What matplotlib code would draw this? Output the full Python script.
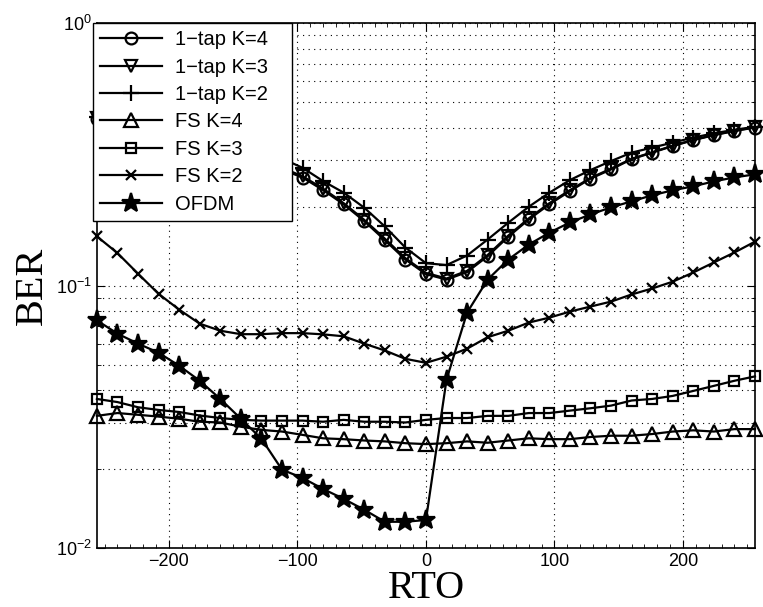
import matplotlib.pyplot as plt
import numpy as np
from matplotlib.ticker import LogLocator, NullFormatter, MultipleLocator

# RTO sample points (every 16 samples)
rto = np.arange(-256, 257, 16)

ber_1tap_k4 = [0.430, 0.415, 0.401, 0.387, 0.374, 0.358, 0.339, 0.322, 0.303,
               0.277, 0.258, 0.231, 0.204, 0.176, 0.149, 0.1257, 0.1106, 0.1054,
               0.1126, 0.1294, 0.1534, 0.1786, 0.204, 0.229, 0.2555, 0.277, 0.303,
               0.321, 0.340, 0.358, 0.374, 0.388, 0.400]
ber_1tap_k3 = [0.434, 0.419, 0.405, 0.391, 0.378, 0.362, 0.343, 0.326, 0.307,
               0.281, 0.261, 0.234, 0.206, 0.178, 0.151, 0.1272, 0.1118, 0.1064,
               0.1138, 0.1308, 0.1550, 0.1803, 0.206, 0.231, 0.257, 0.279, 0.304,
               0.322, 0.341, 0.359, 0.375, 0.389, 0.401]
ber_1tap_k2 = [0.438, 0.426, 0.415, 0.404, 0.391, 0.377, 0.361, 0.345, 0.328,
               0.305, 0.281, 0.250, 0.226, 0.198, 0.168, 0.1396, 0.1217, 0.1197,
               0.1302, 0.1498, 0.1735, 0.1997, 0.2258, 0.2523, 0.2755, 0.2981, 0.321,
               0.3354, 0.3505, 0.3663, 0.3802, 0.3921, 0.4027]
ber_fs_k4 = [0.0319, 0.0327, 0.0322, 0.0317, 0.0311, 0.0303, 0.0301, 0.0290, 0.0282,
             0.0278, 0.0270, 0.0262, 0.0260, 0.0257, 0.0255, 0.0251, 0.0249, 0.0251,
             0.0255, 0.0252, 0.0257, 0.0262, 0.0260, 0.0260, 0.0265, 0.0268, 0.0268,
             0.0272, 0.0278, 0.0281, 0.0278, 0.0284, 0.0284]
ber_fs_k3 = [0.0370, 0.0360, 0.0344, 0.0336, 0.0330, 0.0320, 0.0313, 0.0308, 0.0306,
             0.0306, 0.0306, 0.0303, 0.0308, 0.0303, 0.0303, 0.0301, 0.0308, 0.0313,
             0.0313, 0.0319, 0.0319, 0.0327, 0.0327, 0.0334, 0.0341, 0.0349, 0.0365,
             0.0370, 0.0380, 0.0397, 0.0415, 0.0434, 0.0451]
ber_fs_k2 = [0.154, 0.133, 0.111, 0.093, 0.081, 0.0716, 0.0673, 0.0653, 0.0653,
             0.0659, 0.0659, 0.0652, 0.0641, 0.0601, 0.0566, 0.0526, 0.0508, 0.0536,
             0.0575, 0.0636, 0.0673, 0.0723, 0.0755, 0.0796, 0.0832, 0.0869, 0.0925,
             0.0975, 0.1035, 0.1122, 0.1225, 0.1337, 0.147]
ber_ofdm = [0.0737, 0.0656, 0.0601, 0.0555, 0.0495, 0.0434, 0.0370, 0.0311, 0.0261,
            0.0199, 0.0185, 0.0168, 0.0154, 0.0140, 0.0126, 0.0126, 0.0128, 0.0438,
            0.0789, 0.1054, 0.1256, 0.1433, 0.159, 0.174, 0.1866, 0.1986, 0.2094,
            0.2208, 0.2307, 0.2389, 0.2494, 0.2583, 0.2653]

labels = ['1\u2212tap K=4', '1\u2212tap K=3', '1\u2212tap K=2',
          'FS K=4', 'FS K=3', 'FS K=2', 'OFDM']
series = [ber_1tap_k4, ber_1tap_k3, ber_1tap_k2, ber_fs_k4, ber_fs_k3, ber_fs_k2, ber_ofdm]
markers = ['o', 'v', '+', '^', 's', 'x', '*']
msizes = [8.5, 8.5, 11, 9.5, 7, 7, 14]

plt.rcParams['font.family'] = ['Liberation Sans', 'DejaVu Sans']

fig = plt.figure(figsize=(7.63, 6.07), dpi=100)
ax = fig.add_axes([0.127, 0.097, 0.8625, 0.865])

for y, lab, m, ms in zip(series, labels, markers, msizes):
    face = 'black' if m == '*' else 'none'
    ax.plot(rto, y, color='black', lw=1.6, marker=m, ms=ms, mew=1.6,
            mfc=face, mec='black', label=lab, clip_on=False, zorder=3)

ax.set_yscale('log')
ax.set_xlim(-256, 256)
ax.set_ylim(1e-2, 1e0)
ax.xaxis.set_major_locator(MultipleLocator(100))
ax.xaxis.set_minor_locator(MultipleLocator(10))
ax.yaxis.set_major_locator(LogLocator(base=10))
ax.yaxis.set_minor_locator(LogLocator(base=10, subs=np.arange(2, 10)))
ax.yaxis.set_minor_formatter(NullFormatter())

ax.grid(True, which='major', linestyle=(0, (1, 4)), color='black', lw=0.8)
ax.grid(True, which='minor', axis='y', linestyle=(0, (1, 4)), color='black', lw=0.8)
ax.tick_params(which='both', direction='in', top=True, right=True, labelsize=13)
ax.tick_params(which='major', length=6)
ax.tick_params(which='minor', length=3)
for s in ax.spines.values():
    s.set_linewidth(1.2)

ax.set_xlabel('RTO', family='Liberation Serif', fontsize=29, labelpad=0)
ax.set_ylabel('BER', family='Liberation Serif', fontsize=29, labelpad=4)

leg = ax.legend(loc='upper left', bbox_to_anchor=(-0.006, 0.5, 0.302, 0.5),
                mode='expand', borderaxespad=0,
                fontsize=14.5, frameon=True, fancybox=False, edgecolor='black',
                framealpha=1, handlelength=3.1, labelspacing=0.42,
                borderpad=0.35, handletextpad=0.6)
leg.get_frame().set_linewidth(1.0)
leg.set_zorder(5)

fig.savefig('out.png', dpi=100)
